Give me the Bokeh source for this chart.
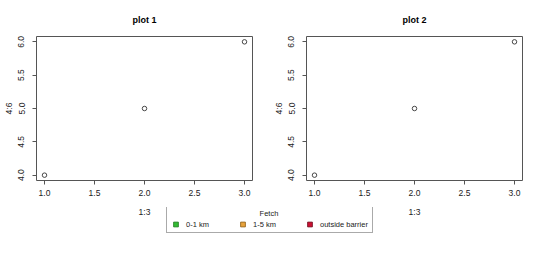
import numpy as np
from bokeh.plotting import figure
from bokeh.models import (FixedTicker, PrintfTickFormatter, Legend, LegendItem, Label,
                          ColumnDataSource)
from bokeh.layouts import row, column
from bokeh.embed import file_html
from bokeh.resources import INLINE

# ---- data ----
x_vals = [1, 2, 3]
y_vals = [4, 5, 6]
x_ticks = [1.0, 1.5, 2.0, 2.5, 3.0]
y_ticks = [4.0, 4.5, 5.0, 5.5, 6.0]
plot_titles = ["plot 1", "plot 2"]
x_label = "1:3"
y_label = "4:6"
legend_title = "Fetch"
fetch_classes = ["0-1 km", "1-5 km", "outside barrier"]
fetch_colors = ["#33bb33", "#e8a33c", "#cc1133"]
fetch_edges = ["#1f7a1f", "#8a5a10", "#6b0a1a"]

FONT = "Liberation Sans"
LINE = "#555555"
W, H = 270, 220
FL, FR, FT, FB = 36, 18, 36, 40
LEG_H = 63          # height of the legend strip at the bottom of the page
OVERLAP = H - (270 - LEG_H)


def make_plot(title):
    p = figure(width=W, height=H, x_range=(0.92, 3.08), y_range=(3.92, 6.08),
               output_backend="svg", toolbar_location=None,
               min_border_left=FL, min_border_right=FR,
               min_border_top=FT, min_border_bottom=FB,
               background_fill_color="white", border_fill_color="white")
    p.grid.visible = False
    p.outline_line_color = LINE
    p.outline_line_width = 1

    p.title.text = title
    p.title.align = "center"
    p.title.text_font = FONT
    p.title.text_font_size = "9px"
    p.title.text_font_style = "bold"
    p.title.text_color = "black"
    p.title.standoff = 23

    for ax, ticks, lab in ((p.xaxis[0], x_ticks, x_label), (p.yaxis[0], y_ticks, y_label)):
        ax.ticker = FixedTicker(ticks=ticks)
        ax.formatter = PrintfTickFormatter(format="%.1f")
        ax.axis_line_color = None
        ax.major_tick_line_color = LINE
        ax.major_tick_out = 4
        ax.major_tick_in = 0
        ax.minor_tick_line_color = None
        ax.major_label_text_font = FONT
        ax.major_label_text_font_size = "8.5px"
        ax.major_label_text_color = "#222222"
        ax.axis_label = lab
        ax.axis_label_text_font = FONT
        ax.axis_label_text_font_size = "8.5px"
        ax.axis_label_text_font_style = "normal"
        ax.axis_label_text_color = "#222222"
    p.xaxis[0].major_label_standoff = 5
    p.xaxis[0].axis_label_standoff = 8
    p.yaxis[0].major_label_standoff = 8
    p.yaxis[0].axis_label_standoff = 2
    p.yaxis[0].major_label_orientation = "parallel"

    p.scatter(x=x_vals, y=y_vals, size=4.5, fill_color=None, line_color="#333333", line_width=0.9)
    return p


p1 = make_plot(plot_titles[0])
p2 = make_plot(plot_titles[1])

# legend strip (transparent, laid slightly over the bottom of the plots)
lf = figure(width=540, height=LEG_H, x_range=(0, 1), y_range=(0, 1),
            output_backend="svg", toolbar_location=None,
            min_border=0, x_axis_location=None, y_axis_location=None,
            background_fill_alpha=0, border_fill_alpha=0,
            margin=(-OVERLAP, 0, 0, 0))
lf.grid.visible = False
lf.outline_line_color = None

# legend-only renderer: NaN positions draw nothing in the plot, the legend still shows the keys
n = len(fetch_classes)
leg_src = ColumnDataSource(dict(cls=fetch_classes, fill=fetch_colors, edge=fetch_edges,
                                x=np.full(n, np.nan), y=np.full(n, np.nan)))
leg_r = lf.scatter(x="x", y="y", source=leg_src,
                   marker="square", size=5, fill_color="fill", line_color="edge", line_width=0.8)
items = [LegendItem(label=cls, renderers=[leg_r], index=i) for i, cls in enumerate(fetch_classes)]

LEG_BOX_H = 26
leg = Legend(items=items, orientation="horizontal",
             location=(166, LEG_H - LEG_BOX_H),
             padding=2, spacing=0, margin=0,
             glyph_width=13, glyph_height=12, label_standoff=4,
             label_width=50, label_height=12,
             label_text_font=FONT, label_text_font_size="7.5px", label_text_color="#222222",
             title=" ", title_text_font=FONT, title_text_font_size="7.5px", title_standoff=1,
             border_line_color=LINE, border_line_width=1,
             background_fill_color=None)
lf.add_layout(leg, "center")
lf.add_layout(Label(x=268.5, y=LEG_H - 6, x_units="screen", y_units="screen",
                    text=legend_title, text_align="center", text_baseline="middle",
                    text_font=FONT, text_font_size="7.5px", text_color="#222222"), "center")

layout = column(row(p1, p2), lf)

open("out.html", "w").write(file_html(layout, INLINE))
